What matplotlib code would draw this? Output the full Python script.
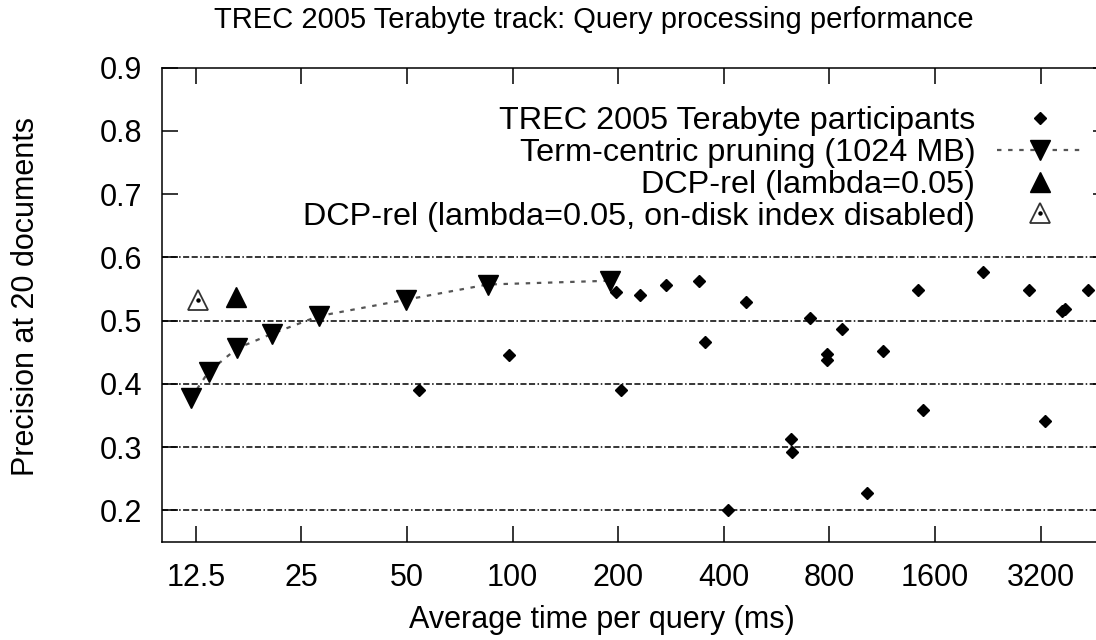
# TREC 2005 Terabyte track - desempenho do processamento de consultas

import matplotlib
matplotlib.use('Agg')
import matplotlib.pyplot as plt
from matplotlib.ticker import NullLocator
from matplotlib.legend_handler import HandlerTuple

# Dados (tempo em ms, precisão P@20)
participantes_x = [54.2, 97.5, 197, 203.5, 231, 273, 341, 353, 411, 464, 623, 625, 706,
                   790, 790, 871, 1025, 1138, 1435, 1480, 2186, 2969, 3293, 3675, 3752, 4375]
participantes_y = [0.390, 0.445, 0.545, 0.390, 0.541, 0.557, 0.562, 0.466, 0.200, 0.530,
                   0.313, 0.292, 0.504, 0.447, 0.438, 0.487, 0.227, 0.452, 0.549, 0.359,
                   0.577, 0.549, 0.342, 0.515, 0.518, 0.549]

poda_x = [12.1, 13.6, 16.4, 20.6, 28.0, 49.7, 84.9, 190]
poda_y = [0.377, 0.419, 0.456, 0.479, 0.507, 0.533, 0.557, 0.563]

dcp_x = [16.3]
dcp_y = [0.538]

dcp_disco_x = [12.7]
dcp_disco_y = [0.532]

xticks = [12.5, 25, 50, 100, 200, 400, 800, 1600, 3200]
xtick_labels = ['12.5', '25', '50', '100', '200', '400', '800', '1600', '3200']
yticks = [0.2, 0.3, 0.4, 0.5, 0.6, 0.7, 0.8, 0.9]
grid_levels = [0.2, 0.3, 0.4, 0.5, 0.6]

plt.rcParams['font.family'] = ['Liberation Sans', 'DejaVu Sans']
plt.rcParams['font.size'] = 22

W, H = 1096, 640
fig = plt.figure(figsize=(W / 100, H / 100), dpi=100)
ax = fig.add_axes([161.7 / W, (H - 542) / H, (1108.6 - 161.7) / W, (542 - 67.5) / H])

ax.set_xscale('log', base=2)
ax.set_xlim(10, 5000)
ax.set_ylim(0.15, 0.9)

# Linhas de grade só de 0.2 a 0.6
for g in grid_levels:
    ax.axhline(g, color='black', lw=1.1, linestyle=(0, (4, 1.6, 4, 1.6, 1, 1.6)), zorder=1)

# Séries
h_part, = ax.plot(participantes_x, participantes_y, linestyle='none', marker='D', ms=6.3,
                  color='black', zorder=3)
h_poda, = ax.plot(poda_x, poda_y, linestyle=(0, (2, 3)), lw=1.6, color='#555555',
                  marker='v', ms=15, mfc='black', mec='black', zorder=3)
h_dcp, = ax.plot(dcp_x, dcp_y, linestyle='none', marker='^', ms=15, color='black', zorder=3)
h_disco, = ax.plot(dcp_disco_x, dcp_disco_y, linestyle='none', marker='^', ms=15,
                   mfc='white', mec='#333333', mew=1.3, zorder=3)
h_ponto, = ax.plot(dcp_disco_x, dcp_disco_y, linestyle='none', marker='o', ms=2.2,
                   color='black', zorder=4)

# Eixos
ax.set_xticks(xticks)
ax.set_xticklabels(xtick_labels)
ax.xaxis.set_minor_locator(NullLocator())
ax.set_yticks(yticks)
ax.set_yticklabels(['%.1f' % v for v in yticks])
ax.tick_params(which='both', direction='in', length=11.5, width=1.1, top=True, right=True)
ax.tick_params(axis='x', pad=15)
ax.tick_params(axis='y', pad=14)
for s in ax.spines.values():
    s.set_linewidth(1.1)

ax.set_xlabel('Average time per query (ms)', va='center')
ax.xaxis.set_label_coords((602 - 161.7) / (1108.6 - 161.7), (542 - 620) / (542 - 67.5))
ax.set_ylabel('Precision at 20 documents', va='center')
ax.yaxis.set_label_coords((26 - 161.7) / (1108.6 - 161.7), (542 - 297) / (542 - 67.5))

fig.suptitle('TREC 2005 Terabyte track: Query processing performance',
             x=594 / W, y=1 - 20 / H, va='center', fontsize=21)

# Legenda com texto alinhado à direita
ax.legend([h_part, h_poda, h_dcp, (h_disco, h_ponto)],
          ['TREC 2005 Terabyte participants', 'Term-centric pruning (1024 MB)',
           'DCP-rel (lambda=0.05)', 'DCP-rel (lambda=0.05, on-disk index disabled)'],
          handler_map={tuple: HandlerTuple(ndivide=1)},
          markerfirst=False, frameon=False, loc='upper right', fontsize=23.3,
          bbox_to_anchor=(1083 / W, 1 - 106 / H), bbox_transform=fig.transFigure,
          borderpad=0, borderaxespad=0, handlelength=2.65, handletextpad=0.68,
          labelspacing=0.06, numpoints=1)

fig.savefig('out.png', dpi=100)
